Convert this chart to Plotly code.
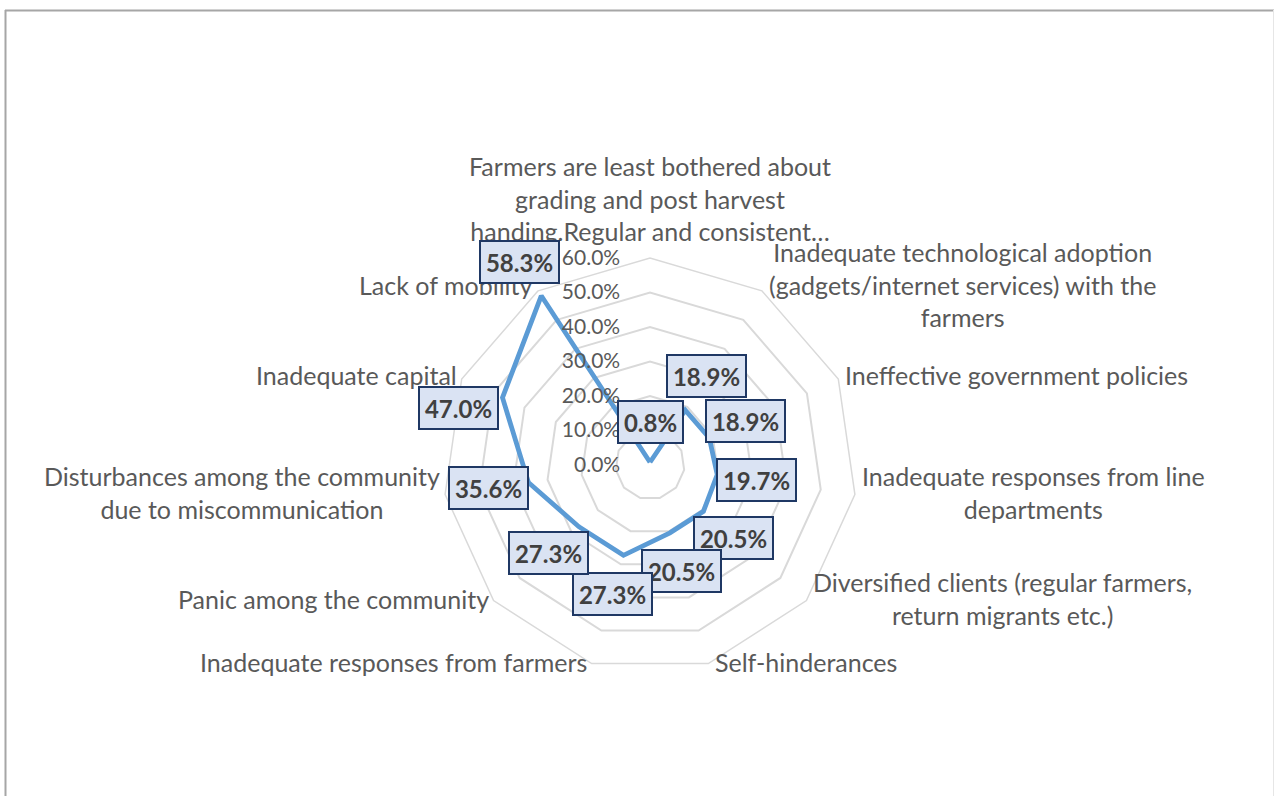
import plotly.graph_objects as go
import numpy as np

categories = [
    "Farmers are least bothered about grading and post harvest handing.Regular and consistent…",
    "Inadequate technological adoption (gadgets/internet services) with the farmers",
    "Ineffective government policies",
    "Inadequate responses from line departments",
    "Diversified clients (regular farmers, return migrants etc.)",
    "Self-hinderances",
    "Inadequate responses from farmers",
    "Panic among the community",
    "Disturbances among the community due to miscommunication",
    "Inadequate capital",
    "Lack of mobility",
]
category_labels = [
    "Farmers are least bothered about<br>grading and post harvest<br>handing.Regular and consistent…",
    "Inadequate technological adoption<br>(gadgets/internet services) with the<br>farmers",
    "Ineffective government policies",
    "Inadequate responses from line<br>departments",
    "Diversified clients (regular farmers,<br>return migrants etc.)",
    "Self-hinderances",
    "Inadequate responses from farmers",
    "Panic among the community",
    "Disturbances among the community<br>due to miscommunication",
    "Inadequate capital",
    "Lack of mobility",
]
values = [0.008, 0.189, 0.189, 0.197, 0.205, 0.205, 0.273, 0.273, 0.356, 0.470, 0.583]
radial_ticks = [0.0, 0.1, 0.2, 0.3, 0.4, 0.5, 0.6]

W, H = 1275, 796
cx, cy, R = 650, 465, 207
rmax = 0.6
FONT = "Lato"
GREY = "#595959"

dom_x = [(cx - R) / W, (cx + R) / W]
dom_y = [(H - cy - R) / H, (H - cy + R) / H]

fig = go.Figure()
fig.add_trace(go.Scatterpolar(
    r=values + values[:1], theta=categories + categories[:1],
    mode="lines", line=dict(color="#5b9bd5", width=4.8),
    hoverinfo="skip", showlegend=False,
))

n = len(categories)

# category labels placed just outside each spoke (hidden cartesian frame matching the polar domain)
for i, lab in enumerate(category_labels):
    ang = np.deg2rad(90 - i * 360 / n)
    c, s = np.cos(ang), np.sin(ang)
    if c > 0.1:
        xa, xs = "left", 5
    elif c < -0.1:
        xa, xs = "right", -3
    else:
        xa, xs = "center", 0
    if s > 0.95:
        ya, ys = "bottom", 10
    else:
        ya, ys = "middle", 5 * max(s, 0) + 2
    fig.add_annotation(
        x=rmax * c, y=rmax * s, xref="x", yref="y", text=lab, showarrow=False,
        xanchor=xa, yanchor=ya, xshift=xs, yshift=ys, align="center",
        font=dict(family=FONT, size=25, color=GREY),
    )

# data label boxes (placed outward from each vertex; one label nudged as in the original)
label_off = 0.116
nudge = {9: (-8, -27)}
for i, v in enumerate(values):
    ang = np.deg2rad(90 - i * 360 / n)
    rr = v + label_off
    txt = f"{v*100:.1f}%"
    dx, dy = nudge.get(i, (0, 0))
    fig.add_annotation(
        x=rr * np.cos(ang), y=rr * np.sin(ang), xref="x", yref="y",
        text=f"<b>{txt}</b>", showarrow=False,
        font=dict(family=FONT, size=24, color="#404040"),
        bgcolor="#dae3f3", bordercolor="#1f3864", borderwidth=2,
        width=14 * len(txt) + 5, height=38, borderpad=1,
        xanchor="center", yanchor="middle", xshift=dx, yshift=dy,
    )

fig.update_layout(
    width=W, height=H,
    margin=dict(l=0, r=0, t=0, b=0),
    paper_bgcolor="white", plot_bgcolor="rgba(0,0,0,0)",
    showlegend=False,
    polar=dict(
        domain=dict(x=dom_x, y=dom_y),
        bgcolor="rgba(0,0,0,0)",
        gridshape="linear",
        radialaxis=dict(
            range=[0, rmax], tickvals=radial_ticks, tickformat=".1%",
            angle=90, tickangle=90, side="counterclockwise",
            showline=False, ticks="outside", ticklen=22, tickcolor="rgba(0,0,0,0)",
            gridcolor="#d9d9d9", gridwidth=1.5,
            tickfont=dict(family=FONT, size=21, color=GREY),
        ),
        angularaxis=dict(
            direction="clockwise", rotation=90,
            showticklabels=False,
            showgrid=False, showline=True, linecolor="#d9d9d9", linewidth=1.5,
            ticks="",
        ),
    ),
    xaxis=dict(domain=dom_x, range=[-rmax, rmax], visible=False, fixedrange=True),
    yaxis=dict(domain=dom_y, range=[-rmax, rmax], visible=False, fixedrange=True),
)

# chart-area border
fig.add_shape(type="line", xref="paper", yref="paper", x0=5.5/W, x1=5.5/W, y0=0, y1=(H-10)/H,
              line=dict(color="#a6a6a6", width=2))
fig.add_shape(type="line", xref="paper", yref="paper", x0=5/W, x1=1274/W, y0=(H-10.5)/H, y1=(H-10.5)/H,
              line=dict(color="#a6a6a6", width=2))
fig.add_shape(type="line", xref="paper", yref="paper", x0=1273.5/W, x1=1273.5/W, y0=0, y1=(H-10)/H,
              line=dict(color="#e6e6e6", width=1))

fig.write_html("out.html")
